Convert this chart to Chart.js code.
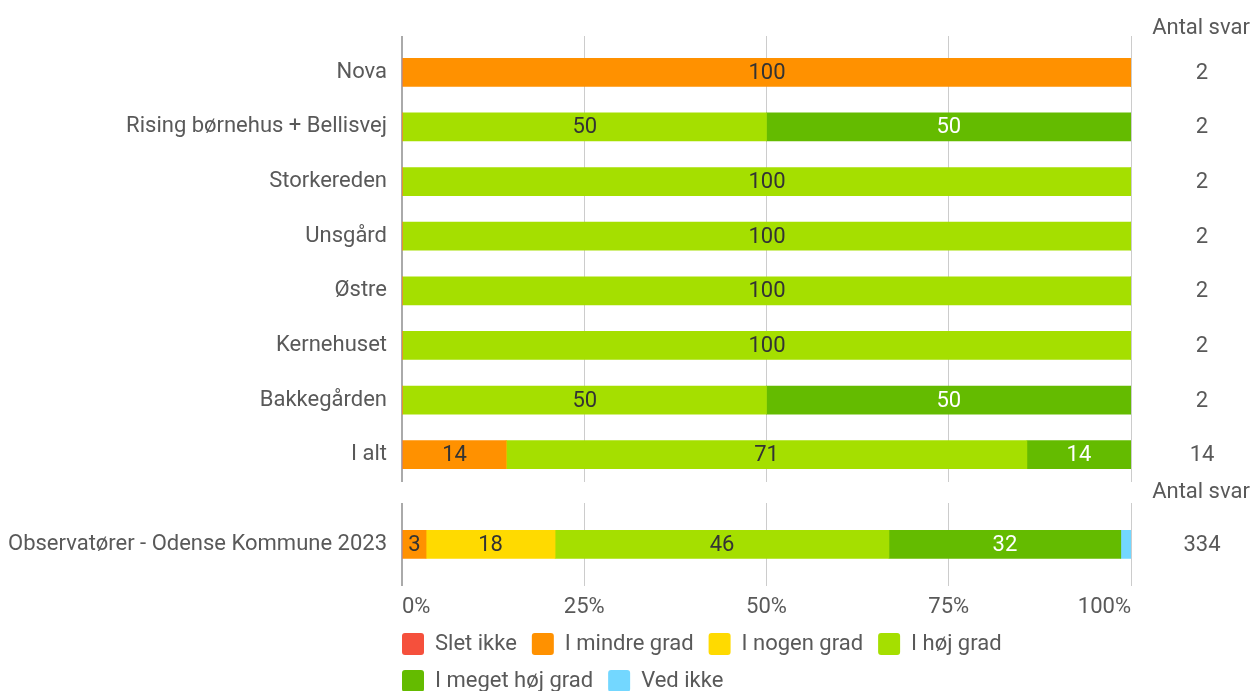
<!DOCTYPE html>
<html>
<head>
<meta charset="utf-8">
<script src="https://cdn.jsdelivr.net/npm/chart.js@4.4.1/dist/chart.umd.min.js"></script>
<style>
  html, body { margin: 0; padding: 0; background: #fff; overflow: hidden; width: 1253px; height: 691px; }
  .box { position: absolute; left: 0; width: 1253px; }
  #top { top: 0; height: 490px; }
  #bot { top: 470px; height: 244px; }
</style>
</head>
<body>
<div class="box" id="top"><canvas id="c1"></canvas></div>
<div class="box" id="bot"><canvas id="c2"></canvas></div>
<script>
// ---- data ----
const seriesNames = ["Slet ikke", "I mindre grad", "I nogen grad", "I høj grad", "I meget høj grad", "Ved ikke"];
const seriesColors = ["#F5503C", "#FF9100", "#FFDA00", "#A5DF00", "#64BB00", "#73D7FF"];
const labelColors = ["#333333", "#333333", "#333333", "#333333", "#FFFFFF", "#333333"];

const topCategories = ["Nova", "Rising børnehus + Bellisvej", "Storkereden", "Unsgård", "Østre", "Kernehuset", "Bakkegården", "I alt"];
const topSletIkke     = [0, 0, 0, 0, 0, 0, 0, 0];
const topMindreGrad   = [100, 0, 0, 0, 0, 0, 0, 14.29];
const topNogenGrad    = [0, 0, 0, 0, 0, 0, 0, 0];
const topHoejGrad     = [0, 50, 100, 100, 100, 100, 50, 71.43];
const topMegetHoejGrad= [0, 50, 0, 0, 0, 0, 50, 14.29];
const topVedIkke      = [0, 0, 0, 0, 0, 0, 0, 0];
const topCounts = [2, 2, 2, 2, 2, 2, 2, 14];

const botCategories = ["Observatører - Odense Kommune 2023"];
const botSletIkke      = [0];
const botMindreGrad    = [3.3];
const botNogenGrad     = [17.7];
const botHoejGrad      = [45.8];
const botMegetHoejGrad = [31.8];
const botVedIkke       = [1.4];
const botCounts = [334];

const xTicks = [0, 25, 50, 75, 100];
const countHeader = "Antal svar";

// ---- helpers ----
const FONT = "Roboto";
const FS = 22;
const TXT = "#595959";

function makeDatasets(arrs) {
  return arrs.map((d, i) => ({
    label: seriesNames[i],
    data: d,
    backgroundColor: seriesColors[i],
    borderWidth: 0,
    barThickness: 28
  }));
}

const barLabels = {
  id: "barLabels",
  afterDatasetsDraw(chart) {
    const ctx = chart.ctx;
    ctx.save();
    ctx.font = FS + "px " + FONT;
    ctx.textAlign = "center";
    ctx.textBaseline = "middle";
    chart.data.datasets.forEach((ds, di) => {
      const meta = chart.getDatasetMeta(di);
      meta.data.forEach((el, i) => {
        const v = ds.data[i];
        if (!v) return;
        const w = Math.abs(el.x - el.base);
        if (w < 15) return;
        ctx.fillStyle = labelColors[di];
        ctx.fillText(String(Math.round(v)), (el.x + el.base) / 2, el.y + 1);
      });
    });
    ctx.restore();
  }
};

const countsPlugin = {
  id: "counts",
  afterDraw(chart, args, opts) {
    const ctx = chart.ctx;
    const ys = chart.scales.y;
    ctx.save();
    ctx.font = FS + "px " + FONT;
    ctx.fillStyle = TXT;
    ctx.textAlign = "center";
    ctx.textBaseline = "middle";
    ctx.fillText(countHeader, 1201, chart.chartArea.top + opts.headerOffset);
    opts.counts.forEach((c, i) => {
      ctx.fillText(String(c), 1202, ys.getPixelForValue(i) + 1);
    });
    ctx.restore();
  }
};

const legendShift = {
  id: "legendShift",
  afterLayout(chart) {
    const lg = chart.legend;
    if (lg) { lg.left -= 15; lg.right -= 15; lg.top -= 12; lg.bottom -= 12; }
  }
};

function yAxis() {
  return {
    stacked: true,
    grid: { display: false, drawTicks: false },
    border: { display: false },
    ticks: { color: TXT, font: { family: FONT, size: FS }, padding: 15 },
    afterFit(s) { s.width = 402; s.paddingTop = 0; s.paddingBottom = 0; }
  };
}

function gridColor(c) { return c.tick && c.tick.value === 0 ? "#AAAAAA" : "#CCCCCC"; }
function gridWidth(c) { return c.tick && c.tick.value === 0 ? 2 : 1; }

Chart.defaults.font.family = FONT;
Chart.defaults.animation = false;

new Chart(document.getElementById("c1"), {
  type: "bar",
  data: {
    labels: topCategories,
    datasets: makeDatasets([topSletIkke, topMindreGrad, topNogenGrad, topHoejGrad, topMegetHoejGrad, topVedIkke])
  },
  options: {
    indexAxis: "y",
    responsive: true,
    maintainAspectRatio: false,
    layout: { padding: { top: 36, right: 122, left: 0, bottom: 8 } },
    plugins: {
      legend: { display: false },
      tooltip: { enabled: false },
      counts: { counts: topCounts, headerOffset: -17 }
    },
    scales: {
      x: {
        position: "top",
        stacked: true, min: 0, max: 100,
        afterBuildTicks(s) { s.ticks = xTicks.map(v => ({ value: v })); },
        ticks: { display: false },
        grid: { color: gridColor, lineWidth: gridWidth, drawTicks: true, tickLength: 9 },
        border: { display: false }
      },
      y: yAxis()
    }
  },
  plugins: [barLabels, countsPlugin]
});

new Chart(document.getElementById("c2"), {
  type: "bar",
  data: {
    labels: botCategories,
    datasets: makeDatasets([botSletIkke, botMindreGrad, botNogenGrad, botHoejGrad, botMegetHoejGrad, botVedIkke])
  },
  options: {
    indexAxis: "y",
    responsive: true,
    maintainAspectRatio: false,
    layout: { padding: { top: 33, right: 122, left: 0, bottom: 0 } },
    plugins: {
      legend: {
        display: true,
        position: "bottom",
        align: "start",
        fullSize: false,
        labels: {
          color: TXT,
          font: { family: FONT, size: FS },
          boxWidth: 22, boxHeight: 22,
          padding: 15,
          useBorderRadius: true, borderRadius: 3
        }
      },
      tooltip: { enabled: false },
      counts: { counts: botCounts, headerOffset: -11 }
    },
    scales: {
      x: {
        stacked: true, min: 0, max: 100,
        afterBuildTicks(s) { s.ticks = xTicks.map(v => ({ value: v })); },
        ticks: { color: TXT, font: { family: FONT, size: FS }, padding: 9, align: "inner", callback: v => v + "%" },
        grid: { color: gridColor, lineWidth: gridWidth, drawTicks: false },
        border: { display: false }
      },
      y: yAxis()
    }
  },
  plugins: [barLabels, countsPlugin, legendShift]
});
</script>
</body>
</html>
